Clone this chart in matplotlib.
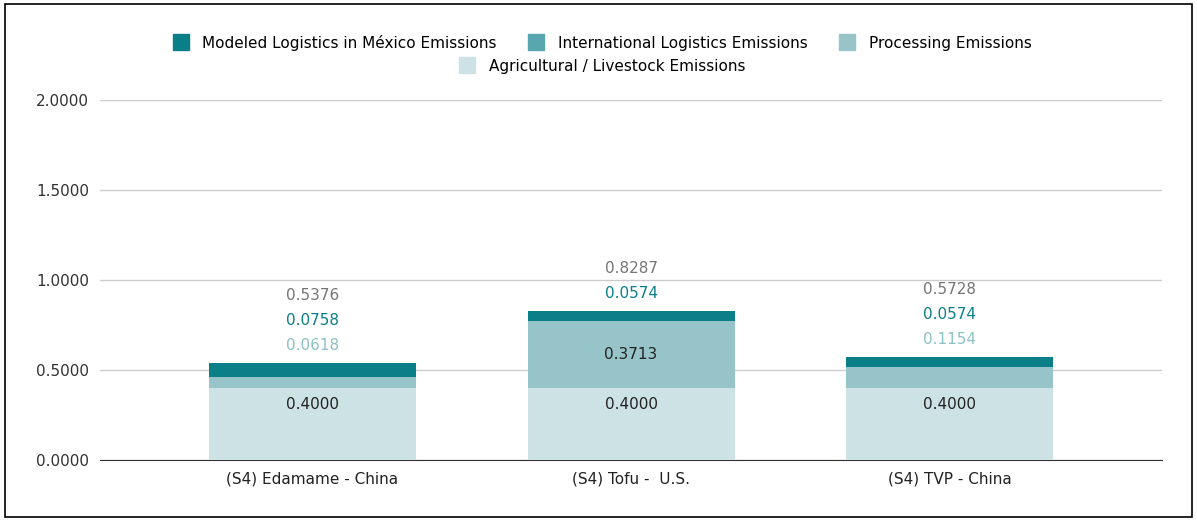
import matplotlib
matplotlib.use("Agg")
import matplotlib.pyplot as plt
from matplotlib.patches import Rectangle
from matplotlib.lines import Line2D

categories = ["(S4) Edamame - China", "(S4) Tofu -  U.S.", "(S4) TVP - China"]
agri = [0.4000, 0.4000, 0.4000]
processing = [0.0618, 0.3713, 0.1154]
intl = [0.0, 0.0, 0.0]
mexico = [0.0758, 0.0574, 0.0574]
totals = [0.5376, 0.8287, 0.5728]

c_mex, c_int, c_proc, c_agri = "#0b7f88", "#58a6ae", "#97c4c8", "#cde2e5"
t_mex, t_proc, t_tot = "#0b7f88", "#8cc2c6", "#757575"

fig = plt.figure(figsize=(11.97, 5.21), dpi=100)
fig.add_artist(Rectangle((0.004, 0.008), 0.992, 0.984, transform=fig.transFigure,
                         fill=False, edgecolor="black", linewidth=1.2))
ax = fig.add_axes([0.0835, 0.117, 0.8875, 0.691])
x = list(range(len(categories)))
w = 0.65
b1 = agri
b2 = [a + p for a, p in zip(agri, processing)]
b3 = [a + i for a, i in zip(b2, intl)]
ax.bar(x, agri, w, color=c_agri, zorder=3)
ax.bar(x, processing, w, bottom=b1, color=c_proc, zorder=3)
ax.bar(x, intl, w, bottom=b2, color=c_int, zorder=3)
ax.bar(x, mexico, w, bottom=b3, color=c_mex, zorder=3)

fs = 11
step = 0.14
for i in x:
    ax.text(i, agri[i] / 2 * 0 + 0.31, f"{agri[i]:.4f}", ha="center", va="center", fontsize=fs, color="#222222", zorder=4)
    top = totals[i]
    y = top + 0.055
    labels = []
    if processing[i] > 0.2:
        ax.text(i, agri[i] + processing[i] / 2, f"{processing[i]:.4f}", ha="center", va="center",
                fontsize=fs, color="#222222", zorder=4)
    else:
        labels.append((f"{processing[i]:.4f}", t_proc))
    labels.append((f"{mexico[i]:.4f}", t_mex))
    labels.append((f"{totals[i]:.4f}", t_tot))
    for txt, col in labels:
        ax.text(i, y, txt, ha="center", va="bottom", fontsize=fs, color=col, zorder=4)
        y += step

ax.set_xlim(-0.667, 2.667)
ax.set_ylim(0, 2)
ax.set_yticks([0, 0.5, 1.0, 1.5, 2.0])
ax.set_yticklabels([f"{v:.4f}" for v in [0, 0.5, 1.0, 1.5, 2.0]], fontsize=fs, color="#333333")
ax.set_xticks(x)
ax.set_xticklabels(categories, fontsize=fs, color="#222222")
ax.tick_params(length=0, pad=8)
ax.grid(axis="y", color="#cccccc", linewidth=1, zorder=0)
for s in ["top", "right", "left"]:
    ax.spines[s].set_visible(False)
ax.spines["bottom"].set_color("#333333")

def h(c):
    return Line2D([], [], marker="s", linestyle="", markersize=11, color=c)

fig.legend([h(c_mex), h(c_int), h(c_proc)],
           ["Modeled Logistics in México Emissions", "International Logistics Emissions", "Processing Emissions"],
           loc="center", bbox_to_anchor=(0.5, 0.918), ncol=3, frameon=False, fontsize=fs,
           handletextpad=0.4, columnspacing=1.6)
fig.legend([h(c_agri)], ["Agricultural / Livestock Emissions"],
           loc="center", bbox_to_anchor=(0.5, 0.873), frameon=False, fontsize=fs, handletextpad=0.4)

fig.savefig("out.png", dpi=100)
